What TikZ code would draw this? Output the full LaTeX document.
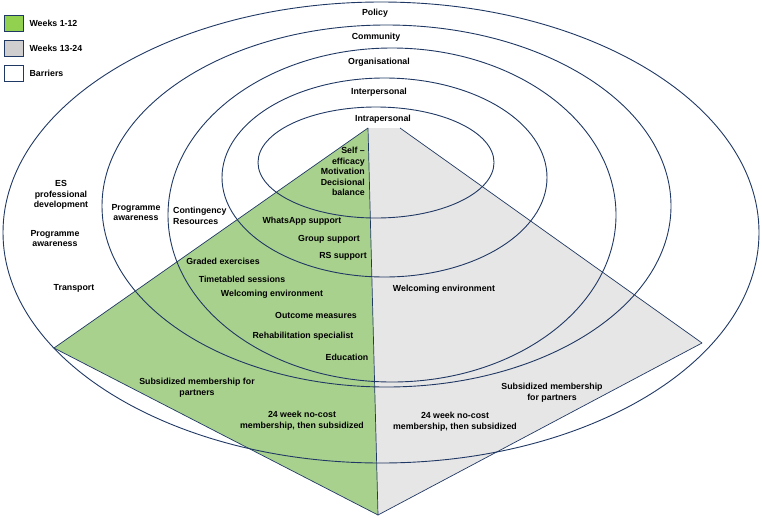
\documentclass[tikz,border=0pt]{standalone}
\usepackage{fontspec}
\setsansfont{Liberation Sans}
\usetikzlibrary{positioning}
\definecolor{ringnavy}{HTML}{203864}
\definecolor{wkgreen}{HTML}{A9D18E}
\definecolor{leggreen}{HTML}{92D050}
\definecolor{wkgrey}{HTML}{E7E6E6}
\definecolor{leggrey}{HTML}{D0CECE}
\tikzset{
  % ringar och pyramid
  ring/.style={draw=ringnavy,line width=0.9pt},
  face/.style={draw=ringnavy,line width=0.7pt,line join=round},
  % texter
  lvl/.style={font=\sffamily\bfseries\fontsize{8.8}{10.6}\selectfont,inner sep=0pt,text=black},
  lbl/.style={lvl,align=center},
  legbox/.style={draw=ringnavy,line width=0.8pt,minimum width=19pt,minimum height=16pt,inner sep=0pt},
}
\begin{document}
\begin{tikzpicture}[x=1pt,y=-1pt]
  \useasboundingbox (0,0) rectangle (762,517);
  \coordinate (top) at (368,128);
  \coordinate (topr) at (400,128);
  \coordinate (lft) at (54,348);
  \coordinate (rgt) at (702,343);
  \coordinate (bot) at (378,515);
  % pyramid
  \fill[wkgrey] (top) -- (topr) -- (rgt) -- (bot) -- cycle;
  \fill[wkgreen] (top) -- (lft) -- (bot) -- cycle;
  \draw[face] (top) -- (lft) -- (bot) -- (rgt) -- (topr);
  \draw[face] (top) -- (bot);
  % ringar
  \draw[ring] (381,232.5) ellipse [x radius=378pt,y radius=230.5pt];
  \draw[ring] (386.5,206) ellipse [x radius=284.5pt,y radius=181pt];
  \draw[ring] (392,215) ellipse [x radius=224pt,y radius=167pt];
  \draw[ring] (384.5,177.5) ellipse [x radius=162.5pt,y radius=99.5pt];
  \draw[ring] (376,162.5) ellipse [x radius=118pt,y radius=55.5pt];
  % nivåer
  \node[lvl] (policy) at (375,13) {Policy};
  \node[lvl] (community) at (376,37) {Community};
  \node[lvl] (orgn) at (379,62) {Organisational};
  \node[lvl] (interp) at (379,92) {Interpersonal};
  \node[lvl] (intrap) at (383,119) {Intrapersonal};
  % veckor 1-12
  \node[lvl,align=right,anchor=east] (selfeff) at (365,171.5) {Self –\\efficacy\\Motivation\\Decisional\\balance};
  \node[lvl] (whatsapp) at (302,221) {WhatsApp support};
  \node[lvl] (group) at (329,239) {Group support};
  \node[lvl] (rs) at (343,256) {RS support};
  \node[lvl] (graded) at (223,261) {Graded exercises};
  \node[lvl] (timet) at (242,279) {Timetabled sessions};
  \node[lvl] (welcL) at (272,294) {Welcoming environment};
  \node[lvl] (outcome) at (316,315) {Outcome measures};
  \node[lvl] (rehab) at (303,336) {Rehabilitation specialist};
  \node[lvl] (educ) at (347,357) {Education};
  \node[lbl] (subsL) at (197,388) {Subsidized membership for\\partners};
  \node[lbl] (costL) at (302,420.5) {24 week no-cost\\membership, then subsidized};
  % veckor 13-24
  \node[lvl] (welcR) at (444,289) {Welcoming environment};
  \node[lbl] (subsR) at (552,393) {Subsidized membership\\for partners};
  \node[lbl] (costR) at (455,422) {24 week no-cost\\membership, then subsidized};
  % hinder
  \node[lbl] (esdev) at (61,195) {ES\\professional\\development};
  \node[lbl] (progA) at (55,238.5) {Programme\\awareness};
  \node[lvl] (transp) at (74,288) {Transport};
  \node[lbl] (progB) at (136,212.5) {Programme\\awareness};
  \node[lvl,align=left,anchor=west] (conting) at (173,216) {Contingency\\Resources};
  % förklaring
  \node[legbox,fill=leggreen] (legA) at (13.5,23.5) {};
  \node[legbox,fill=leggrey] (legB) at (13.5,48.5) {};
  \node[legbox,fill=white] (legC) at (13.5,73) {};
  \node[lvl,right=6pt of legA] (legAt) {Weeks 1-12};
  \node[lvl,right=6pt of legB] (legBt) {Weeks 13-24};
  \node[lvl,right=6pt of legC] (legCt) {Barriers};
\end{tikzpicture}
\end{document}
